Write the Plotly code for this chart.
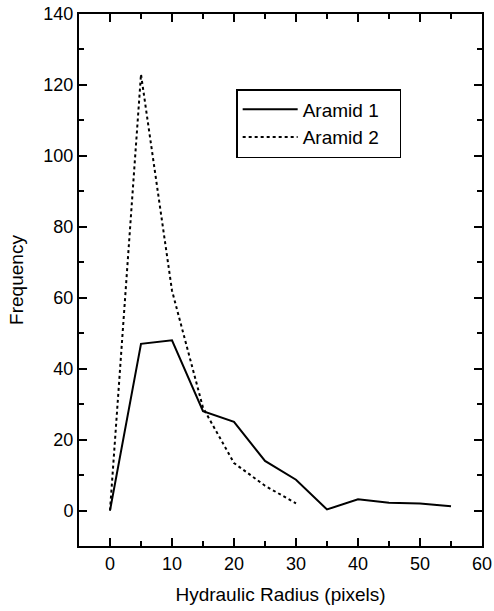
import plotly.graph_objects as go

x1 = [0, 5, 10, 15, 20, 25, 30, 35, 40, 45, 50, 55]
aramid1 = [0, 47, 48, 28, 25, 14, 8.7, 0.3, 3.2, 2.2, 2, 1.2]
x2 = [0, 5, 10, 15, 20, 25, 30]
aramid2 = [0, 123, 62, 29, 13.4, 7, 2]
names = ["Aramid 1", "Aramid 2"]

font = "Liberation Sans, Arial, sans-serif"
pad = "\u00a0\u00a0\u00a0"

fig = go.Figure()
fig.add_trace(go.Scatter(x=x1, y=aramid1, mode="lines", name=names[0] + pad,
                         line=dict(color="black", width=2)))
fig.add_trace(go.Scatter(x=x2, y=aramid2, mode="lines", name=names[1] + pad,
                         line=dict(color="black", width=2, dash="dot")))

axis_common = dict(showgrid=False, zeroline=False, showline=True, linecolor="black",
                   linewidth=2, mirror="allticks", ticks="inside", ticklen=8,
                   tickwidth=1.5, tickcolor="black", automargin=False,
                   tickfont=dict(family=font, size=18, color="black"))

fig.update_xaxes(range=[-5, 60], tickvals=[0, 10, 20, 30, 40, 50, 60],
                 minor=dict(ticks="inside", ticklen=5, tickwidth=1.5, dtick=5, tick0=0, tickcolor="black"),
                 title=dict(text="Hydraulic Radius (pixels)", font=dict(family=font, size=19, color="black")),
                 **axis_common)
fig.update_yaxes(range=[-10, 140], tickvals=[0, 20, 40, 60, 80, 100, 120, 140],
                 minor=dict(ticks="inside", ticklen=5, tickwidth=1.5, dtick=10, tick0=0, tickcolor="black"),
                 title=dict(text="Frequency", font=dict(family=font, size=19, color="black")),
                 **axis_common)

fig.update_layout(width=494, height=611, margin=dict(l=79, r=12, t=14, b=65),
                  plot_bgcolor="white", paper_bgcolor="white",
                  legend=dict(x=0.39, y=0.859, xanchor="left", yanchor="top",
                              bordercolor="black", borderwidth=1.5, bgcolor="white",
                              font=dict(family=font, size=19, color="black"),
                              itemwidth=55,
                              tracegroupgap=0))

fig.write_html("out.html")
